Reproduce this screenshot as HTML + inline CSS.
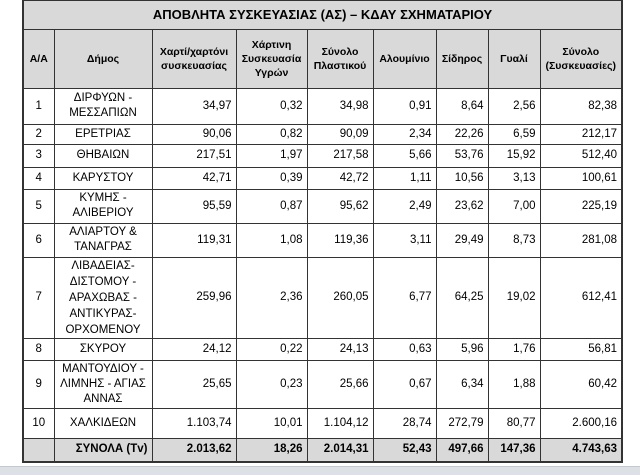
<!DOCTYPE html>
<html><head><meta charset="utf-8"><style>
body{margin:0;width:640px;height:474px;background:#fff;position:relative;overflow:hidden;font-family:"Liberation Sans","DejaVu Sans",sans-serif;}
table{position:absolute;left:22px;top:-1px;border-collapse:collapse;table-layout:fixed;border:2px solid #333;}
td{border:1px solid #333;font-size:11.5px;line-height:15px;color:#000;padding:0 4px;text-align:right;overflow:hidden;}
td.c{text-align:center;}
tr.hd td{background:#d9d9d9;font-weight:bold;text-align:center;font-size:10.5px;line-height:14px;}
tr.tt td{background:#d9d9d9;font-weight:bold;font-size:13px;text-align:center;}
tr.tot td{background:#d9d9d9;font-weight:bold;}
.bar{position:absolute;left:0;top:466px;width:640px;height:8px;background:#dde1e6;border-top:1px solid #c4c9cf;}
</style></head><body>
<table>
<colgroup><col style="width:31px"><col style="width:98px"><col style="width:84px"><col style="width:71px"><col style="width:66px"><col style="width:63px"><col style="width:52px"><col style="width:52px"><col style="width:82px"></colgroup>
<tr class="tt" style="height:29px"><td colspan="9">ΑΠΟΒΛΗΤΑ ΣΥΣΚΕΥΑΣΙΑΣ (ΑΣ) – ΚΔΑΥ ΣΧΗΜΑΤΑΡΙΟΥ</td></tr>
<tr class="hd" style="height:59px"><td>Α/Α</td><td>Δήμος</td><td>Χαρτί/χαρτόνι συσκευασίας</td><td>Χάρτινη Συσκευασία Υγρών</td><td>Σύνολο Πλαστικού</td><td>Αλουμίνιο</td><td>Σίδηρος</td><td>Γυαλί</td><td>Σύνολο (Συσκευασίες)</td></tr>
<tr style="height:36px"><td class="c">1</td><td class="c">ΔΙΡΦΥΩΝ - ΜΕΣΣΑΠΙΩΝ</td><td>34,97</td><td>0,32</td><td>34,98</td><td>0,91</td><td>8,64</td><td>2,56</td><td>82,38</td></tr>
<tr style="height:20px"><td class="c">2</td><td class="c">ΕΡΕΤΡΙΑΣ</td><td>90,06</td><td>0,82</td><td>90,09</td><td>2,34</td><td>22,26</td><td>6,59</td><td>212,17</td></tr>
<tr style="height:23px"><td class="c">3</td><td class="c">ΘΗΒΑΙΩΝ</td><td>217,51</td><td>1,97</td><td>217,58</td><td>5,66</td><td>53,76</td><td>15,92</td><td>512,40</td></tr>
<tr style="height:22px"><td class="c">4</td><td class="c">ΚΑΡΥΣΤΟΥ</td><td>42,71</td><td>0,39</td><td>42,72</td><td>1,11</td><td>10,56</td><td>3,13</td><td>100,61</td></tr>
<tr style="height:34px"><td class="c">5</td><td class="c">ΚΥΜΗΣ - ΑΛΙΒΕΡΙΟΥ</td><td>95,59</td><td>0,87</td><td>95,62</td><td>2,49</td><td>23,62</td><td>7,00</td><td>225,19</td></tr>
<tr style="height:34px"><td class="c">6</td><td class="c">ΑΛΙΑΡΤΟΥ &amp; ΤΑΝΑΓΡΑΣ</td><td>119,31</td><td>1,08</td><td>119,36</td><td>3,11</td><td>29,49</td><td>8,73</td><td>281,08</td></tr>
<tr style="height:81px"><td class="c">7</td><td class="c" style="line-height:16px">ΛΙΒΑΔΕΙΑΣ-ΔΙΣΤΟΜΟΥ - ΑΡΑΧΩΒΑΣ - ΑΝΤΙΚΥΡΑΣ-ΟΡΧΟΜΕΝΟΥ</td><td>259,96</td><td>2,36</td><td>260,05</td><td>6,77</td><td>64,25</td><td>19,02</td><td>612,41</td></tr>
<tr style="height:22px"><td class="c">8</td><td class="c">ΣΚΥΡΟΥ</td><td>24,12</td><td>0,22</td><td>24,13</td><td>0,63</td><td>5,96</td><td>1,76</td><td>56,81</td></tr>
<tr style="height:48px"><td class="c">9</td><td class="c">ΜΑΝΤΟΥΔΙΟΥ - ΛΙΜΝΗΣ - ΑΓΙΑΣ ΑΝΝΑΣ</td><td>25,65</td><td>0,23</td><td>25,66</td><td>0,67</td><td>6,34</td><td>1,88</td><td>60,42</td></tr>
<tr style="height:30px"><td class="c">10</td><td class="c">ΧΑΛΚΙΔΕΩΝ</td><td>1.103,74</td><td>10,01</td><td>1.104,12</td><td>28,74</td><td>272,79</td><td>80,77</td><td>2.600,16</td></tr>
<tr class="tot" style="height:24px"><td></td><td>ΣΥΝΟΛΑ (Tv)</td><td>2.013,62</td><td>18,26</td><td>2.014,31</td><td>52,43</td><td>497,66</td><td>147,36</td><td>4.743,63</td></tr>
</table>
<div class="bar"></div>
</body></html>
